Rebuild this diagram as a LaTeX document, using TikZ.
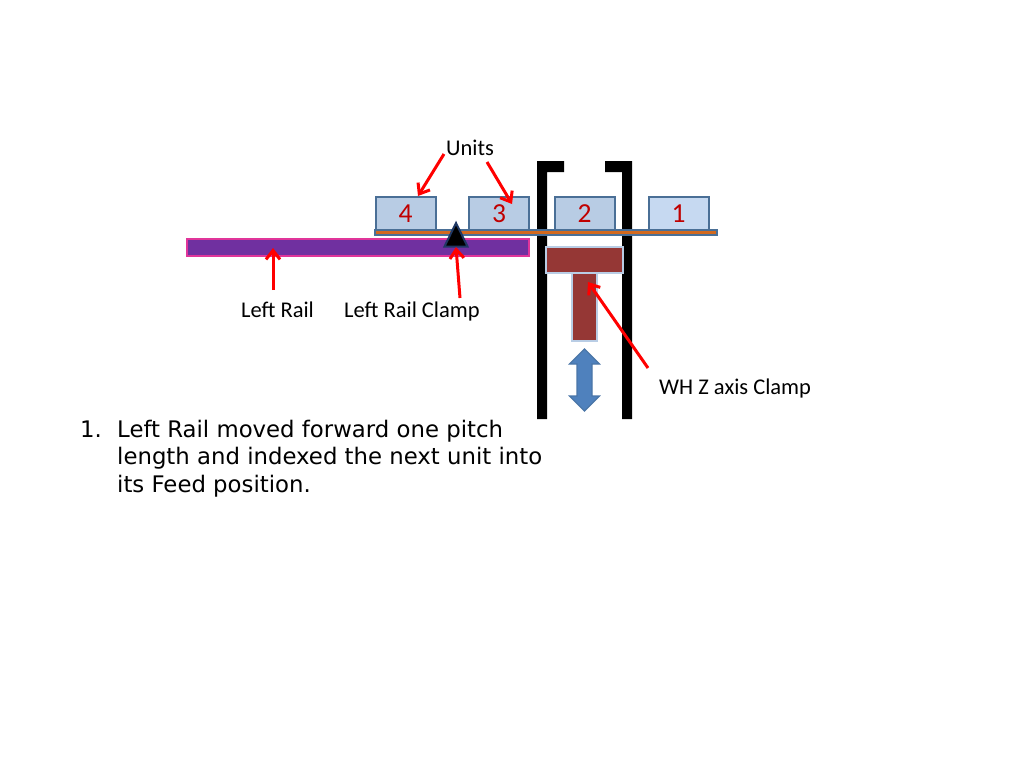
\documentclass[tikz,border=0pt]{standalone}
\usepackage{fontspec}
\setmainfont{Carlito}
\newfontfamily\bodyfont{DejaVu Sans}
\definecolor{unitedge}{HTML}{4A6F96}
\definecolor{unitfill}{HTML}{B8CCE4}
\definecolor{unitfillb}{HTML}{C6D9F1}
\definecolor{barorange}{HTML}{D2691E}
\definecolor{railfill}{HTML}{7030A0}
\definecolor{railedge}{HTML}{E0359A}
\definecolor{tfill}{HTML}{953735}
\definecolor{tedge}{HTML}{B9CDE5}
\definecolor{arrowblue}{HTML}{4F81BD}
\definecolor{arrowedge}{HTML}{4A76A8}
\definecolor{numred}{HTML}{C00000}
\definecolor{triedge}{HTML}{1F3864}
\usetikzlibrary{arrows.meta}
\tikzset{
 unitbox/.style={draw=unitedge,line width=2.2pt,fill=unitfill,minimum width=60pt,minimum height=34pt,inner sep=0pt,anchor=north west,text=numred,font=\fontsize{27.5}{27.5}\selectfont},
 lbl/.style={inner sep=0pt,font=\fontsize{22.5}{24}\selectfont,text=black},
 redarrow/.style={draw=red,line width=3pt,-{Straight Barb[length=9pt,width=14pt,line width=3pt]}},
 blackbar/.style={fill=black,draw=none},
 tpart/.style={fill=tfill,draw=tedge,line width=2pt},
 bodytext/.style={inner sep=0pt,anchor=base west,font=\bodyfont\fontsize{22.8}{22.8}\selectfont,text=black}
}
\begin{document}
\begin{tikzpicture}[x=1pt,y=-1pt]
\useasboundingbox (0,0) rectangle (1024,768);
\fill[white] (0,0) rectangle (1024,768);
% frame
\path[blackbar] (537,419) -- (537,161) -- (564,161) -- (564,172) -- (547,172) -- (547,419) -- cycle;
\path[blackbar] (632,419) -- (632,161) -- (605,161) -- (605,172) -- (622,172) -- (622,419) -- cycle;
% units
\node[unitbox] (u4) at (374.5,195.5) {4};
\node[unitbox] (u3) at (468,195.5) {3};
\node[unitbox] (u2) at (553.5,195.5) {2};
\node[unitbox,fill=unitfillb] (u1) at (647.5,195.5) {1};
% carrier
\path[fill=barorange,draw=unitedge,line width=1.4pt] (375,230) rectangle (717,235);
% rail
\path[fill=railfill,draw=railedge,line width=2pt] (187,238.5) rectangle (529,256);
% clamp triangle
\path[fill=black,draw=triedge,line width=2pt] (456,223) -- (467.5,246.5) -- (444.5,246.5) -- cycle;
\coordinate (clampbase) at (456,247);
% T
\path[tpart] (572,273) rectangle (597,341);
\path[tpart] (546,247) rectangle (623,273);
% double arrow
\path[fill=arrowblue,draw=arrowedge,line width=1.2pt] (584.5,349) -- (599.5,364) -- (592,364) -- (592,396) -- (599.5,396) -- (584.5,411) -- (569.5,396) -- (577,396) -- (577,364) -- (569.5,364) -- cycle;
% labels
\node[lbl,anchor=base west] (units) at (446,155) {Units};
\node[lbl,anchor=base west] (lrail) at (241,317) {Left Rail};
\node[lbl,anchor=base west] (lclamp) at (344,317) {Left Rail Clamp};
\node[lbl,anchor=base west] (wh) at (659,394) {WH Z axis Clamp};
% connector ends
\coordinate (a1) at (444,154);
\coordinate (b1) at (418,196);
\coordinate (a2) at (487,162);
\coordinate (b2) at (512,204);
\coordinate (a3) at (273,290);
\coordinate (b3) at (273,248);
\coordinate (a4) at (460,298);
\coordinate (a5) at (648,368);
\coordinate (b5) at (588,282);
\draw[redarrow] (a1) -- (b1);
\draw[redarrow] (a2) -- (b2);
\draw[redarrow] (a3) -- (b3);
\draw[redarrow] (a4) -- (clampbase);
\draw[redarrow] (a5) -- (b5);
% body text
\node[bodytext] (n1) at (80,437) {1.};
\node[bodytext] (l1) at (117,437) {Left Rail moved forward one pitch};
\node[bodytext] (l2) at (117,464.5) {length and indexed the next unit into};
\node[bodytext] (l3) at (117,492) {its Feed position.};
\end{tikzpicture}
\end{document}
